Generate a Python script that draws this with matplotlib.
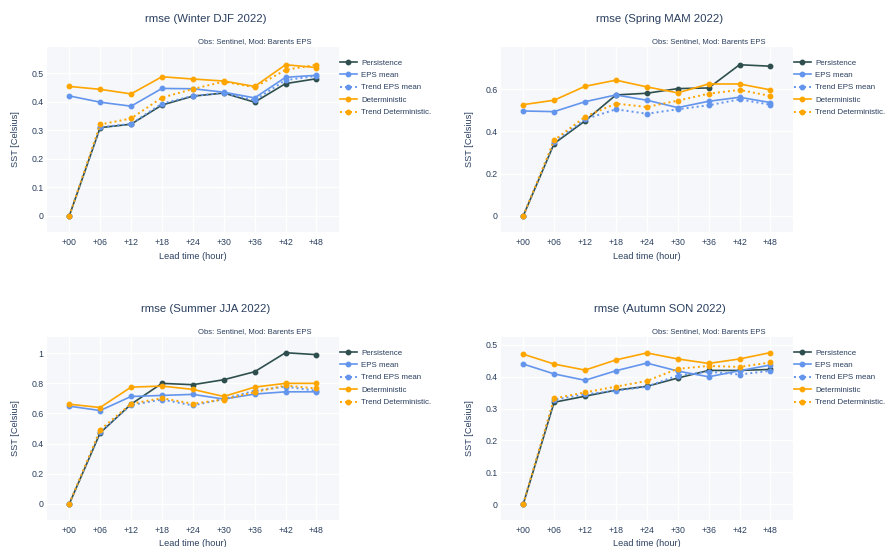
import matplotlib
matplotlib.use("Agg")
import matplotlib.pyplot as plt

plt.rcParams['font.family'] = ['Liberation Sans', 'DejaVu Sans']

W, H = 885, 547
TXT = '#2a3f5f'
BG = '#f5f7fa'

lead_labels = ['+00', '+06', '+12', '+18', '+24', '+30', '+36', '+42', '+48']
series_names = ['Persistence', 'EPS mean', 'Trend EPS mean', 'Deterministic', 'Trend Deterministic.']
series_colors = ['#2f4f4f', '#6495ed', '#6495ed', '#ffa500', '#ffa500']
series_dotted = [False, False, True, False, True]

titles = ['rmse (Winter DJF 2022)', 'rmse (Spring MAM 2022)',
          'rmse (Summer JJA 2022)', 'rmse (Autumn SON 2022)']

# Winter DJF
djf_persistence = [0, 0.309, 0.321, 0.388, 0.419, 0.430, 0.398, 0.463, 0.480]
djf_eps = [0.420, 0.398, 0.384, 0.446, 0.445, 0.433, 0.413, 0.485, 0.492]
djf_trend_eps = [0, 0.310, 0.322, 0.393, 0.420, 0.430, 0.405, 0.475, 0.490]
djf_det = [0.453, 0.443, 0.427, 0.487, 0.479, 0.472, 0.453, 0.529, 0.519]
djf_trend_det = [0, 0.320, 0.341, 0.414, 0.444, 0.470, 0.450, 0.511, 0.529]

# Spring MAM
mam_persistence = [0, 0.343, 0.450, 0.573, 0.581, 0.603, 0.606, 0.716, 0.709]
mam_eps = [0.497, 0.494, 0.541, 0.573, 0.548, 0.513, 0.543, 0.562, 0.537]
mam_trend_eps = [0, 0.351, 0.458, 0.505, 0.484, 0.505, 0.524, 0.552, 0.527]
mam_det = [0.527, 0.548, 0.614, 0.643, 0.611, 0.583, 0.625, 0.625, 0.597]
mam_trend_det = [0, 0.358, 0.470, 0.532, 0.516, 0.546, 0.579, 0.597, 0.568]

# Summer JJA
jja_persistence = [0, 0.471, 0.661, 0.799, 0.790, 0.823, 0.876, 1.002, 0.989]
jja_eps = [0.648, 0.619, 0.712, 0.719, 0.726, 0.695, 0.728, 0.743, 0.743]
jja_trend_eps = [0, 0.480, 0.655, 0.692, 0.653, 0.695, 0.750, 0.777, 0.750]
jja_det = [0.661, 0.639, 0.774, 0.781, 0.759, 0.712, 0.774, 0.799, 0.799]
jja_trend_det = [0, 0.491, 0.664, 0.701, 0.664, 0.692, 0.741, 0.785, 0.765]

# Autumn SON
son_persistence = [0, 0.320, 0.339, 0.358, 0.370, 0.396, 0.420, 0.420, 0.423]
son_eps = [0.440, 0.409, 0.389, 0.419, 0.443, 0.418, 0.400, 0.419, 0.437]
son_trend_eps = [0, 0.328, 0.345, 0.356, 0.369, 0.404, 0.416, 0.407, 0.419]
son_det = [0.471, 0.440, 0.421, 0.453, 0.475, 0.456, 0.442, 0.456, 0.476]
son_trend_det = [0, 0.332, 0.351, 0.369, 0.387, 0.425, 0.434, 0.431, 0.445]

season_data = [
    [djf_persistence, djf_eps, djf_trend_eps, djf_det, djf_trend_det],
    [mam_persistence, mam_eps, mam_trend_eps, mam_det, mam_trend_det],
    [jja_persistence, jja_eps, jja_trend_eps, jja_det, jja_trend_det],
    [son_persistence, son_eps, son_trend_eps, son_det, son_trend_det],
]

# layout in pixels: (left, top, right, bottom), y range, ticks
boxes = [(47, 47, 339, 232), (501, 47, 793, 232), (47, 337, 339, 520), (501, 337, 793, 520)]
ylims = [(-0.056, 0.591), (-0.076, 0.800), (-0.106, 1.106), (-0.050, 0.525)]
yticks = [[0, 0.1, 0.2, 0.3, 0.4, 0.5], [0, 0.2, 0.4, 0.6],
          [0, 0.2, 0.4, 0.6, 0.8, 1], [0, 0.1, 0.2, 0.3, 0.4, 0.5]]


def fx(px):
    return px / W


def fy(py):
    return 1 - py / H


def fmt(v):
    return '0' if v == 0 else ('%g' % v)


fig = plt.figure(figsize=(W / 100, H / 100), dpi=100)
fig.patch.set_facecolor('white')

x = list(range(len(lead_labels)))
for i in range(4):
    l, t, r, b = boxes[i]
    ax = fig.add_axes([fx(l), fy(b), (r - l) / W, (b - t) / H])
    ax.set_facecolor(BG)
    for s in ax.spines.values():
        s.set_visible(False)
    lines = []
    for k in range(5):
        ls = (0, (1, 1.6)) if series_dotted[k] else '-'
        lw = 1.4 if series_dotted[k] else 1.2
        ln, = ax.plot(x, season_data[i][k], color=series_colors[k], linestyle=ls,
                      linewidth=lw, marker='o', markersize=3.2, label=series_names[k],
                      zorder=3 + k)
        lines.append(ln)
    ax.set_xlim(-0.72, 8.73)
    ax.set_ylim(*ylims[i])
    ax.set_xticks(x)
    ax.set_xticklabels(lead_labels)
    ax.set_yticks(yticks[i])
    ax.set_yticklabels([fmt(v) for v in yticks[i]])
    ax.tick_params(length=0, labelsize=6.3, labelcolor=TXT)
    ax.tick_params(axis='x', pad=4)
    ax.tick_params(axis='y', pad=2.5)
    ax.grid(True, color='white', linewidth=1.0)
    ax.set_axisbelow(True)

    cx = (l + r) / 2
    fig.text(fx(cx), fy(b + 24), 'Lead time (hour)', ha='center', va='center',
             fontsize=6.6, color=TXT)
    fig.text(fx(l - 32), fy((t + b) / 2), 'SST [Celsius]', ha='center', va='center',
             rotation=90, fontsize=6.6, color=TXT)
    fig.text(fx(l + 159), fy(t - 28), titles[i], ha='center', va='center',
             fontsize=8.2, color=TXT)
    fig.text(fx(r - 28), fy(t - 5), 'Obs: Sentinel, Mod: Barents EPS', ha='right',
             va='center', fontsize=5.5, color=TXT)

    ax.legend(handles=lines, loc='upper left',
              bbox_to_anchor=(fx(r + 1), fy(t + 12)), bbox_transform=fig.transFigure,
              frameon=False, fontsize=5.7, handlelength=2.1, handletextpad=0.6,
              labelspacing=0.62, borderpad=0, borderaxespad=0, labelcolor=TXT)

fig.savefig('out.png', dpi=100, facecolor='white')
